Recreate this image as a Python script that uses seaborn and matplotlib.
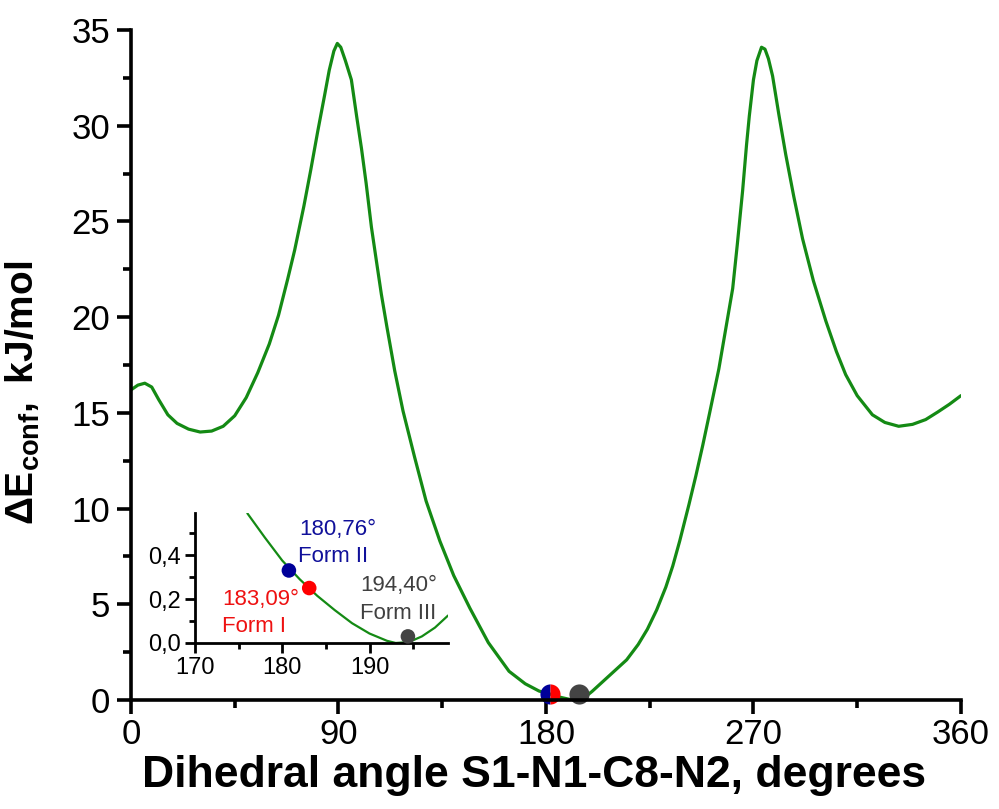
import matplotlib
matplotlib.use("Agg")
import matplotlib.pyplot as plt
from matplotlib.ticker import MultipleLocator, FixedLocator
import seaborn as sns

# dihedral scan
angle = [0, 3, 6, 9, 12, 16, 20, 25, 30, 35, 40, 45, 50, 55, 60, 64, 68, 71, 75, 78,
         81, 84, 86, 88, 89.5, 91, 93, 95.6, 98, 100, 102, 104.3, 106.5, 108.6, 111,
         114.4, 118, 123, 128, 134, 140, 147, 155, 164, 171, 177, 181, 183, 186, 190,
         193, 196, 200, 205, 210, 215, 220, 224, 228, 232, 235, 238, 242, 245, 248, 251, 255,
         258, 261, 263, 265.3, 267, 268.2, 270, 271.5, 273.5, 275, 276.5, 278.3, 281, 284,
         287.5, 291.3, 296, 301.4, 306, 310, 315, 321.6, 327, 333, 339, 344.7, 350, 355, 360]
energy = [16.2, 16.45, 16.55, 16.35, 15.7, 14.9, 14.45, 14.15, 14.0, 14.05, 14.3, 14.85,
          15.8, 17.1, 18.6, 20.1, 22.0, 23.5, 25.8, 27.7, 29.7, 31.6, 32.9, 33.9, 34.3,
          34.1, 33.4, 32.4, 30.4, 28.8, 27.0, 24.7, 22.9, 21.2, 19.5, 17.2, 15.1, 12.7,
          10.4, 8.3, 6.5, 4.8, 3.0, 1.5, 0.85, 0.47, 0.33, 0.28, 0.15, 0.04, 0.0, 0.06,
          0.45, 1.0, 1.55, 2.1, 2.9, 3.7, 4.7, 5.9, 7.0, 8.3, 10.2, 11.7, 13.3, 15.0, 17.3,
          19.4, 21.5, 23.8, 26.6, 29.0, 30.5, 32.4, 33.4, 34.1, 34.0, 33.5, 32.6, 30.6, 28.5,
          26.3, 24.1, 21.9, 19.8, 18.2, 17.0, 15.9, 14.9, 14.5, 14.3, 14.4, 14.65, 15.05,
          15.45, 15.9]

# zoomed minimum
inset_angle = [176, 178, 180, 182, 184, 186, 188, 190, 192, 193, 194.5, 196, 197.5, 199]
inset_energy = [0.59, 0.48, 0.375, 0.29, 0.215, 0.15, 0.09, 0.043, 0.01, 0.0, 0.004, 0.03,
                0.07, 0.125]

forms = ["Form I", "Form II", "Form III"]
form_angle = [183.09, 180.76, 194.40]
form_energy = [0.25, 0.33, 0.03]
form_color = ["#ff0000", "#000099", "#444444"]
form_text_color = ["#ee1111", "#10109a", "#404040"]

sns.set_style("ticks")
plt.rcParams["font.family"] = ["Liberation Sans", "DejaVu Sans"]
plt.rcParams["mathtext.fontset"] = "custom"
plt.rcParams["mathtext.bf"] = "Liberation Sans:bold"
plt.rcParams["mathtext.rm"] = "Liberation Sans"
for k in ["text.color", "axes.labelcolor", "xtick.color", "ytick.color", "axes.edgecolor"]:
    plt.rcParams[k] = "black"

green = "#148a14"

fig = plt.figure(figsize=(9.99, 8.09), dpi=100)
ax = fig.add_axes([0.1311, 0.1347, 0.8308, 0.8282])

sns.lineplot(x=angle, y=energy, ax=ax, color=green, linewidth=2.3)

# markers on the main curve
ax.plot([(form_angle[0] + form_angle[1]) / 2], [0.3], marker="o", markersize=14.5,
        fillstyle="left", markerfacecolor=form_color[1], markerfacecoloralt=form_color[0],
        markeredgewidth=0, linestyle="none", clip_on=False, zorder=2.2)
ax.plot([form_angle[2]], [0.3], marker="o", markersize=14.5, color=form_color[2],
        markeredgewidth=0, linestyle="none", clip_on=False, zorder=2.2)

ax.set_xlim(0, 360)
ax.set_ylim(0, 35)
ax.xaxis.set_major_locator(MultipleLocator(90))
ax.xaxis.set_minor_locator(MultipleLocator(45))
ax.yaxis.set_major_locator(MultipleLocator(5))
ax.yaxis.set_minor_locator(MultipleLocator(2.5))
sns.despine(ax=ax)
for s in ["left", "bottom"]:
    ax.spines[s].set_linewidth(2.6)
ax.tick_params(which="major", length=10, width=2.6, labelsize=25, direction="out", pad=5)
ax.tick_params(which="minor", length=6, width=2.6, direction="out")
ax.tick_params(axis="x", pad=3)
ax.set_xlabel("Dihedral angle S1-N1-C8-N2, degrees", fontsize=32, fontweight="bold")
ax.xaxis.set_label_coords(0.4855, -0.082)
ax.set_ylabel(r"$\mathbf{\Delta E_{conf},}$ kJ/mol", fontsize=28, fontweight="bold")
ax.yaxis.set_label_coords(-0.107, 0.458)

# inset
axi = fig.add_axes([0.1952, 0.2052, 0.2533, 0.1603])
axi.set_facecolor("none")
sns.lineplot(x=inset_angle, y=inset_energy, ax=axi, color=green, linewidth=1.6)
sns.scatterplot(x=form_angle, y=form_energy, hue=forms, palette=form_color, s=110,
                linewidth=0, ax=axi, legend=False, zorder=3, clip_on=False)
axi.set_xlim(170, 199)
axi.set_ylim(0, 0.59)
axi.xaxis.set_major_locator(FixedLocator([170, 180, 190]))
axi.xaxis.set_minor_locator(FixedLocator([175, 185, 195]))
axi.yaxis.set_major_locator(FixedLocator([0, 0.2, 0.4]))
axi.yaxis.set_minor_locator(FixedLocator([0.1, 0.3, 0.5]))
axi.set_yticklabels(["0,0", "0,2", "0,4"])
sns.despine(ax=axi)
for s in ["left", "bottom"]:
    axi.spines[s].set_linewidth(2)
axi.tick_params(which="major", length=7, width=2, labelsize=17, direction="out", pad=3)
axi.tick_params(which="minor", length=4, width=2, direction="out")

axi.text(182.0, 0.517, "180,76°", color=form_text_color[1], fontsize=16, ha="left", va="center")
axi.text(181.8, 0.395, "Form II", color=form_text_color[1], fontsize=16, ha="left", va="center")
axi.text(173.1, 0.20, "183,09°", color=form_text_color[0], fontsize=16, ha="left", va="center")
axi.text(173.1, 0.075, "Form I", color=form_text_color[0], fontsize=16, ha="left", va="center")
axi.text(188.9, 0.263, "194,40°", color=form_text_color[2], fontsize=16, ha="left", va="center")
axi.text(188.9, 0.132, "Form III", color=form_text_color[2], fontsize=16, ha="left", va="center")

fig.savefig("out.png", dpi=100)
